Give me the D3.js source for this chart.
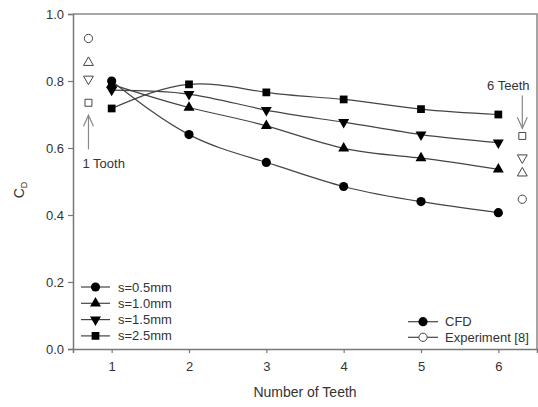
<!DOCTYPE html>
<html>
<head>
<meta charset="utf-8">
<script src="https://cdn.jsdelivr.net/npm/d3@7"></script>
<style>
  body { margin: 0; background: #fff; }
  text { font-family: "Liberation Sans", Arial, sans-serif; fill: #333; }
</style>
</head>
<body>
<script>
// data
var teeth = [1, 2, 3, 4, 5, 6];
var seriesNames = ["s=0.5mm", "s=1.0mm", "s=1.5mm", "s=2.5mm"];
var cfd05 = [0.800, 0.640, 0.557, 0.485, 0.440, 0.407];
var cfd10 = [0.790, 0.721, 0.666, 0.599, 0.570, 0.536];
var cfd15 = [0.773, 0.761, 0.713, 0.677, 0.640, 0.616];
var cfd25 = [0.718, 0.790, 0.766, 0.745, 0.716, 0.700];
// experiment [8], one tooth and six teeth, same order as seriesNames
var exp1Tooth = [0.927, 0.855, 0.806, 0.735];
var exp6Teeth = [0.447, 0.525, 0.571, 0.636];
var expX = [0.7, 6.31];
var xTicks = [1, 2, 3, 4, 5, 6];
var yTicks = [0.0, 0.2, 0.4, 0.6, 0.8, 1.0];

var width = 538, height = 407;
var margin = {top: 14, right: 1, bottom: 58, left: 73};
var fs = 13;

var svg = d3.select("body").append("svg")
    .attr("width", width)
    .attr("height", height);

svg.append("rect").attr("width", width).attr("height", height).attr("fill", "#fff");

var x = d3.scaleLinear().domain([0.5, 6.5]).range([margin.left, width - margin.right]);
var y = d3.scaleLinear().domain([0, 1]).range([height - margin.bottom, margin.top]);

// symbols: circle, up triangle, down triangle, square
var symTypes = [d3.symbolCircle, d3.symbolTriangle, d3.symbolTriangle, d3.symbolSquare];
var symSizes = [66, 52, 52, 60];
var symRot = [0, 0, 180, 0];
function sym(i) { return d3.symbol().type(symTypes[i]).size(symSizes[i])(); }

// frame (top + right)
svg.append("path")
    .attr("d", "M" + x(0.5) + "," + y(1) + "H" + x(6.5) + "V" + y(0))
    .attr("fill", "none").attr("stroke", "#888").attr("stroke-width", 1.5);

// axes
var yAxis = svg.append("g")
    .attr("transform", "translate(" + margin.left + ",0)")
    .call(d3.axisLeft(y).tickValues(yTicks).tickFormat(d3.format(".1f")).tickSize(5).tickPadding(4));
var xAxis = svg.append("g")
    .attr("transform", "translate(0," + (height - margin.bottom) + ")")
    .call(d3.axisBottom(x).tickValues(xTicks).tickFormat(d3.format("d")).tickSize(4).tickPadding(9));
[xAxis, yAxis].forEach(function(a) {
  a.select(".domain").attr("stroke", "#777").attr("stroke-width", 1.5);
  a.selectAll(".tick line").attr("stroke", "#777").attr("stroke-width", 1.2);
  a.selectAll("text").attr("font-size", fs).attr("fill", "#333")
    .style("font-family", "'Liberation Sans', Arial, sans-serif");
});

// curves
var allCfd = [cfd05, cfd10, cfd15, cfd25];
var line = d3.line()
    .x(function(d, i) { return x(teeth[i]); })
    .y(function(d) { return y(d); })
    .curve(d3.curveNatural);

allCfd.forEach(function(vals, s) {
  svg.append("path")
      .datum(vals)
      .attr("d", line)
      .attr("fill", "none")
      .attr("stroke", "#444")
      .attr("stroke-width", 1.2);
});

allCfd.forEach(function(vals, s) {
  svg.selectAll(".m" + s)
    .data(vals)
    .enter().append("path")
      .attr("class", "m" + s)
      .attr("d", sym(s))
      .attr("transform", function(d, i) {
        return "translate(" + x(teeth[i]) + "," + y(d) + ") rotate(" + symRot[s] + ")";
      })
      .attr("fill", "#000");
});

// experiment, open symbols
[exp1Tooth, exp6Teeth].forEach(function(vals, k) {
  vals.forEach(function(v, s) {
    svg.append("path")
      .attr("d", sym(s))
      .attr("transform", "translate(" + x(expX[k]) + "," + y(v) + ") rotate(" + symRot[s] + ") scale(0.9)")
      .attr("fill", "#fff")
      .attr("stroke", "#444")
      .attr("stroke-width", 1.1);
  });
});

// arrows
function arrow(xv, y1, y2, down) {
  svg.append("line")
    .attr("x1", x(xv)).attr("x2", x(xv))
    .attr("y1", y(y1)).attr("y2", y(y2))
    .attr("stroke", "#888").attr("stroke-width", 1.2);
  var tip = y(y2), dir = down ? -1 : 1;
  svg.append("path")
    .attr("d", "M" + (x(xv) - 5) + "," + (tip + dir * 11) + "L" + x(xv) + "," + tip + "L" + (x(xv) + 5) + "," + (tip + dir * 11))
    .attr("fill", "none").attr("stroke", "#888").attr("stroke-width", 1.2);
}
arrow(expX[0], 0.596, 0.698, false);
arrow(expX[1], 0.757, 0.659, true);

svg.append("text").attr("x", x(expX[0]) - 6).attr("y", y(0.540))
    .attr("font-size", fs).text("1 Tooth");
svg.append("text").attr("x", x(expX[1]) - 14).attr("y", y(0.773))
    .attr("text-anchor", "middle").attr("font-size", fs).text("6 Teeth");

// axis titles
svg.append("text")
    .attr("x", x(3.5)).attr("y", 397)
    .attr("text-anchor", "middle").attr("font-size", 14)
    .text("Number of Teeth");
var yl = svg.append("text")
    .attr("transform", "translate(24,190) rotate(-90)")
    .attr("text-anchor", "middle").attr("font-size", 14);
yl.append("tspan").text("C");
yl.append("tspan").attr("font-size", 9).attr("dy", 3).text("D");

// legend, series
var leg = svg.append("g");
seriesNames.forEach(function(name, s) {
  var ly = 287 + s * 16.3;
  leg.append("line").attr("x1", 81).attr("x2", 110).attr("y1", ly).attr("y2", ly)
    .attr("stroke", "#444").attr("stroke-width", 1.2);
  leg.append("path").attr("d", sym(s))
    .attr("transform", "translate(95.5," + ly + ") rotate(" + symRot[s] + ")")
    .attr("fill", "#000");
  leg.append("text").attr("x", 118).attr("y", ly + 4.5).attr("font-size", fs).text(name);
});

// legend, method
var methods = ["CFD", "Experiment [8]"];
methods.forEach(function(name, k) {
  var ly = 321.7 + k * 15.6;
  leg.append("line").attr("x1", 408).attr("x2", 438).attr("y1", ly).attr("y2", ly)
    .attr("stroke", "#444").attr("stroke-width", 1.2);
  leg.append("path").attr("d", sym(0))
    .attr("transform", "translate(423," + ly + ") scale(" + (k ? 0.9 : 1) + ")")
    .attr("fill", k ? "#fff" : "#000")
    .attr("stroke", k ? "#444" : "none").attr("stroke-width", 1.1);
  leg.append("text").attr("x", 445).attr("y", ly + 4.5).attr("font-size", fs).text(name);
});
</script>
</body>
</html>
